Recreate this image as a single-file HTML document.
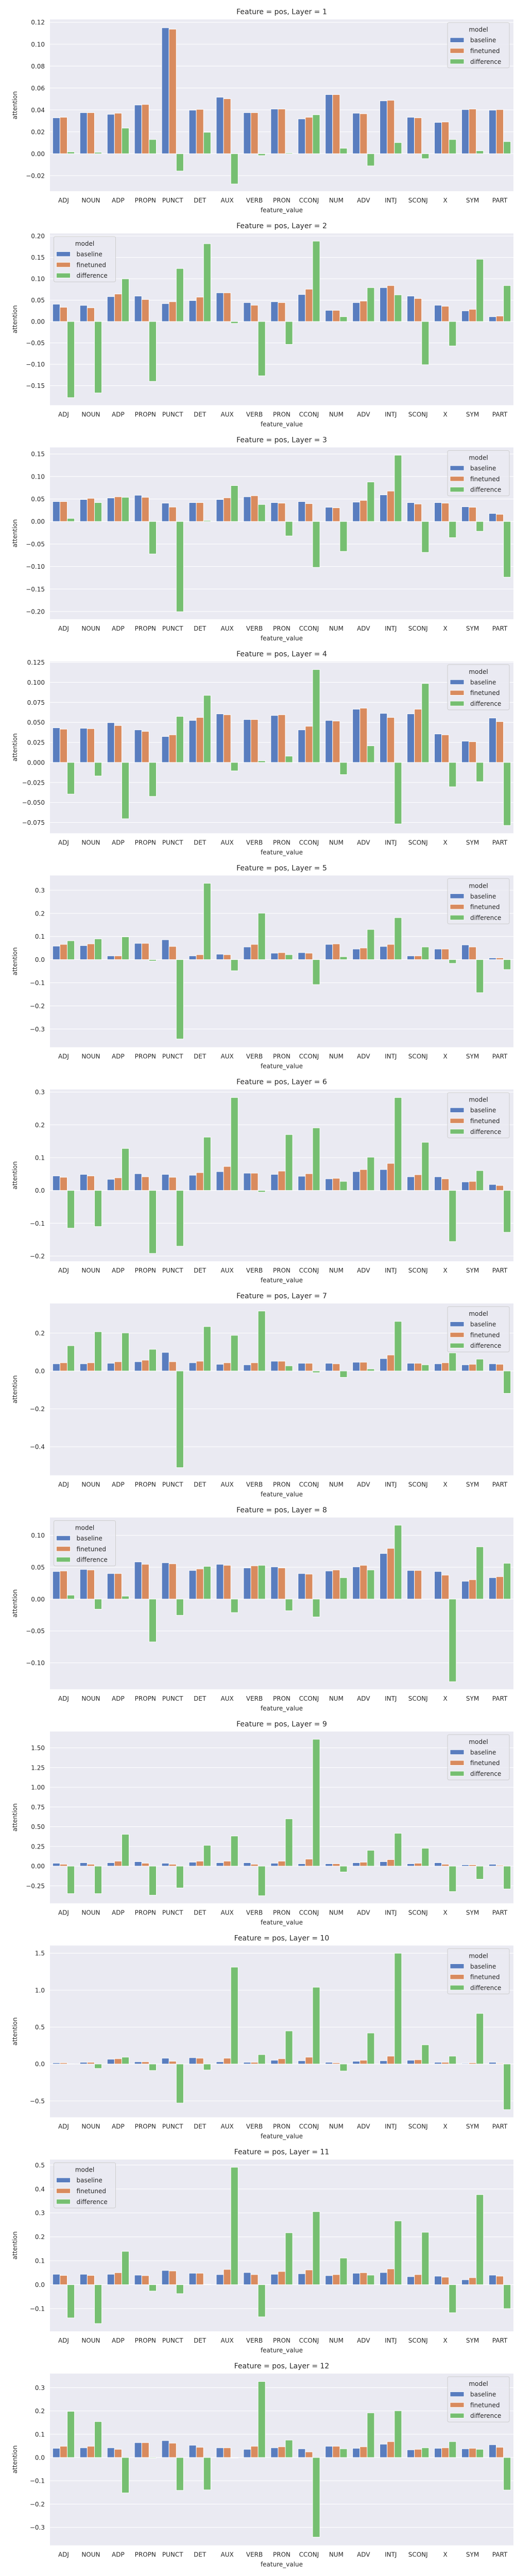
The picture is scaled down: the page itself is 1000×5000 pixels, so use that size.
<!DOCTYPE html>
<html><head><meta charset="utf-8"><title>Attention by POS per layer</title>
<style>
html,body{margin:0;padding:0;background:#fff;}
svg{display:block;font-family:"DejaVu Sans","Liberation Sans",sans-serif;}
</style></head>
<body>
<svg id="fig" width="1000" height="5000" viewBox="0 0 1000 5000" xmlns="http://www.w3.org/2000/svg"></svg>
<script>
const categories = ["ADJ","NOUN","ADP","PROPN","PUNCT","DET","AUX","VERB","PRON","CCONJ","NUM","ADV","INTJ","SCONJ","X","SYM","PART"];
const seriesNames = ["baseline","finetuned","difference"];

const baselineL1   = [0.0328,0.0375,0.036,0.0445,0.115,0.0398,0.0516,0.0375,0.0408,0.0318,0.054,0.037,0.0483,0.0333,0.0286,0.0403,0.0398];
const finetunedL1  = [0.0333,0.0375,0.037,0.045,0.1137,0.0405,0.0502,0.0375,0.0408,0.0333,0.054,0.0365,0.0488,0.0328,0.029,0.0408,0.0403];
const differenceL1 = [0.0017,0.0013,0.0234,0.013,-0.0158,0.0196,-0.0276,-0.0017,0.0008,0.0356,0.005,-0.0111,0.0102,-0.0045,0.013,0.0027,0.0111];

const baselineL2   = [0.0406,0.0378,0.0583,0.0596,0.0419,0.0491,0.0672,0.0443,0.0463,0.0632,0.0262,0.0443,0.0793,0.0596,0.0382,0.025,0.0113];
const finetunedL2  = [0.0334,0.0322,0.0644,0.0515,0.0463,0.0571,0.0672,0.0382,0.0443,0.0757,0.0262,0.0479,0.0841,0.0539,0.0358,0.0286,0.0129];
const differenceL2 = [-0.178,-0.167,0.0998,-0.140,0.124,0.182,-0.0044,-0.127,-0.0535,0.188,0.0113,0.0793,0.0624,-0.101,-0.0571,0.1457,0.0841];

const baselineL3   = [0.0443,0.0489,0.0523,0.0584,0.0408,0.042,0.0489,0.055,0.042,0.0443,0.0317,0.0431,0.0592,0.042,0.042,0.0328,0.0179];
const finetunedL3  = [0.0443,0.0515,0.055,0.0538,0.0321,0.042,0.0527,0.0573,0.0408,0.0397,0.0305,0.0469,0.0676,0.0389,0.0408,0.0317,0.016];
const differenceL3 = [0.0069,0.042,0.0538,-0.0721,-0.2004,0.0023,0.0798,0.0378,-0.0321,-0.1019,-0.0664,0.0878,0.1473,-0.0687,-0.0359,-0.0218,-0.1237];

const baselineL4   = [0.0433,0.0427,0.0497,0.0407,0.0324,0.0525,0.0607,0.0536,0.0587,0.0407,0.0525,0.0665,0.0613,0.0607,0.0356,0.0266,0.0555];
const finetunedL4  = [0.0416,0.0422,0.0461,0.0388,0.0345,0.0562,0.0596,0.0536,0.0596,0.0452,0.0517,0.0678,0.0562,0.0665,0.0345,0.0259,0.051];
const differenceL4 = [-0.0395,-0.0169,-0.0703,-0.0424,0.0575,0.0838,-0.0105,0.0021,0.0079,0.116,-0.0152,0.0208,-0.0768,0.0986,-0.0304,-0.024,-0.0787];

const baselineL5   = [0.0585,0.0607,0.0163,0.0704,0.0859,0.0163,0.0237,0.0548,0.0281,0.0304,0.0659,0.0459,0.057,0.0163,0.0459,0.0637,0.0074];
const finetunedL5  = [0.0659,0.0681,0.0163,0.0704,0.057,0.0215,0.0215,0.0659,0.0304,0.0281,0.0681,0.0504,0.0659,0.0163,0.0459,0.0548,0.0074];
const differenceL5 = [0.0815,0.0896,0.0985,-0.0059,-0.343,0.330,-0.0481,0.2007,0.0215,-0.108,0.0126,0.1304,0.1815,0.0548,-0.0163,-0.143,-0.043];

const baselineL6   = [0.0444,0.0491,0.034,0.0512,0.0491,0.0465,0.0575,0.0528,0.0491,0.0434,0.0355,0.0575,0.0638,0.0418,0.0418,0.0261,0.0183];
const finetunedL6  = [0.0403,0.0444,0.0387,0.0418,0.0403,0.0544,0.0732,0.0528,0.0591,0.0512,0.0371,0.0638,0.0826,0.0481,0.0355,0.0277,0.0152];
const differenceL6 = [-0.115,-0.110,0.128,-0.192,-0.170,0.1626,0.2833,-0.0052,0.1704,0.1908,0.0277,0.1014,0.2833,0.1469,-0.1558,0.0606,-0.1276];

const baselineL7   = [0.0382,0.0382,0.0409,0.0491,0.0982,0.0436,0.0355,0.0327,0.0518,0.0409,0.0409,0.0464,0.0655,0.0409,0.0382,0.0327,0.0382];
const finetunedL7  = [0.0436,0.0436,0.0491,0.0573,0.0491,0.0518,0.0436,0.0436,0.0518,0.0409,0.0382,0.0464,0.0845,0.0409,0.0436,0.0355,0.0355];
const differenceL7 = [0.1336,0.2073,0.2009,0.1145,-0.51,0.2345,0.1882,0.3164,0.0273,-0.0091,-0.0336,0.0109,0.2618,0.0327,0.0955,0.0627,-0.1182];

const baselineL8   = [0.0433,0.0465,0.0401,0.0583,0.057,0.0449,0.0546,0.0489,0.0505,0.0401,0.0441,0.0505,0.0715,0.0449,0.0433,0.028,0.0336];
const finetunedL8  = [0.0441,0.0457,0.0401,0.0546,0.0554,0.0473,0.053,0.0522,0.0489,0.0392,0.0457,0.053,0.0796,0.0449,0.0376,0.0304,0.0352];
const differenceL8 = [0.0062,-0.0159,0.0046,-0.0672,-0.0255,0.0513,-0.0212,0.053,-0.0183,-0.028,0.0336,0.0457,0.1159,0.0,-0.1296,0.082,0.0562];

const baselineL9   = [0.037,0.0437,0.0437,0.0568,0.037,0.050,0.0437,0.0437,0.037,0.0306,0.0306,0.0437,0.0568,0.0306,0.0437,0.0175,0.024];
const finetunedL9  = [0.024,0.024,0.0633,0.037,0.024,0.0633,0.0633,0.024,0.0633,0.0895,0.0306,0.050,0.083,0.037,0.024,0.0175,0.011];
const differenceL9 = [-0.349,-0.349,0.404,-0.369,-0.277,0.264,0.382,-0.376,0.600,1.609,-0.0742,0.201,0.417,0.227,-0.323,-0.166,-0.29];

const baselineL10   = [0.0163,0.0232,0.065,0.0302,0.079,0.0859,0.0302,0.0232,0.0511,0.0441,0.0232,0.0372,0.0441,0.0511,0.0232,0.0093,0.0232];
const finetunedL10  = [0.0163,0.0232,0.072,0.0302,0.0372,0.079,0.079,0.0232,0.072,0.0929,0.0163,0.0511,0.1068,0.058,0.0232,0.0163,0.0093];
const differenceL10 = [0.002,-0.0604,0.0929,-0.0882,-0.529,-0.0813,1.312,0.1277,0.448,1.040,-0.0952,0.420,1.500,0.260,0.1068,0.685,-0.618];

const baselineL11   = [0.0438,0.0438,0.0438,0.0402,0.0596,0.0481,0.0424,0.051,0.0438,0.046,0.0381,0.0481,0.051,0.0338,0.0359,0.0208,0.0402];
const finetunedL11  = [0.0388,0.0388,0.0503,0.0381,0.0575,0.0481,0.0639,0.0424,0.0553,0.0618,0.0424,0.0503,0.0661,0.0424,0.0316,0.0295,0.0359];
const differenceL11 = [-0.1387,-0.1624,0.1394,-0.0266,-0.0374,0.0014,0.4907,-0.1343,0.217,0.3053,0.1114,0.0402,0.2665,0.2191,-0.1171,0.3764,-0.0999];

const baselineL12   = [0.0397,0.0419,0.0419,0.064,0.0728,0.0529,0.0419,0.0353,0.0419,0.0375,0.0485,0.0397,0.0574,0.0331,0.0397,0.0375,0.0551];
const finetunedL12  = [0.0485,0.0485,0.0353,0.064,0.0618,0.0441,0.0419,0.0485,0.0463,0.0243,0.0485,0.0463,0.0684,0.0353,0.0419,0.0397,0.0441];
const differenceL12 = [0.1985,0.1544,-0.152,-0.0029,-0.1412,-0.139,-0.002,0.3265,0.075,-0.342,0.0375,0.1919,0.2007,0.0419,0.0684,0.0353,-0.1397];

const layerBaseline   = [baselineL1,baselineL2,baselineL3,baselineL4,baselineL5,baselineL6,baselineL7,baselineL8,baselineL9,baselineL10,baselineL11,baselineL12];
const layerFinetuned  = [finetunedL1,finetunedL2,finetunedL3,finetunedL4,finetunedL5,finetunedL6,finetunedL7,finetunedL8,finetunedL9,finetunedL10,finetunedL11,finetunedL12];
const layerDifference = [differenceL1,differenceL2,differenceL3,differenceL4,differenceL5,differenceL6,differenceL7,differenceL8,differenceL9,differenceL10,differenceL11,differenceL12];

const yMin = [-0.0342,-0.1957,-0.2171,-0.0884,-0.3787,-0.2159,-0.5504,-0.1415,-0.4716,-0.722,-0.1948,-0.3772];
const yMax = [0.1226,0.206,0.1645,0.1261,0.3636,0.3078,0.3561,0.1279,1.707,1.604,0.5228,0.3605];
const tickStart = [-0.02,-0.15,-0.20,-0.075,-0.3,-0.2,-0.4,-0.10,-0.25,-0.5,-0.1,-0.3];
const tickStep = [0.02,0.05,0.05,0.025,0.1,0.1,0.2,0.05,0.25,0.5,0.1,0.1];
const tickDecimals = [2,2,2,3,1,1,1,2,2,1,1,1];
const legendLeft = [false,true,false,false,false,false,false,true,false,false,true,false];

const COLORS = ["#597dbf","#d98b5e","#76bf71"];
const NS = "http://www.w3.org/2000/svg";
const svg = document.getElementById("fig");
const PLOT_L = 97, PLOT_R = 997, PLOT_H = 333.4, PITCH = 415.4, TOP0 = 37.7;

function mk(tag, attrs, parent){
  const e = document.createElementNS(NS, tag);
  for (const k in attrs) e.setAttribute(k, attrs[k]);
  (parent||svg).appendChild(e);
  return e;
}
function fmt(v, d){
  const s = Math.abs(v).toFixed(d);
  return (v < -1e-9 ? "\u2212" : "") + s;
}

for (let p = 0; p < 12; p++){
  const top = TOP0 + PITCH * p, bot = top + PLOT_H;
  const ymin = yMin[p], ymax = yMax[p];
  const yScale = v => bot - (v - ymin) / (ymax - ymin) * PLOT_H;
  const catW = (PLOT_R - PLOT_L) / categories.length;
  const xBand = i => PLOT_L + i * catW;

  const g = mk("g", {});
  
  

  const bg = mk("rect", {x:PLOT_L, y:top, width:PLOT_R-PLOT_L, height:PLOT_H, fill:"#eaeaf2"}, g);
  
  

  const title = mk("text", {x:547, y:top-10, "text-anchor":"middle", "font-size":"14", fill:"#262626"}, g);
  title.textContent = "Feature = pos, Layer = " + (p+1);
  
  

  for (let t = tickStart[p]; t <= ymax + 1e-9; t += tickStep[p]){
    const tv = Math.round(t / tickStep[p]) * tickStep[p];
    const y = yScale(tv);
    const gl = mk("line", {x1:PLOT_L, x2:PLOT_R, y1:y, y2:y, stroke:"#ffffff", "stroke-width":"1.1"}, g);
    
    
    const tl = mk("text", {x:PLOT_L-10, y:y+4.5, "text-anchor":"end", "font-size":"12", fill:"#262626"}, g);
    tl.textContent = fmt(tv, tickDecimals[p]);
    
    
  }

  const series = [layerBaseline[p], layerFinetuned[p], layerDifference[p]];
  const barW = catW * 0.8 / 3;
  const y0 = yScale(0);
  for (let s = 0; s < 3; s++){
    for (let i = 0; i < categories.length; i++){
      const v = series[s][i];
      const yv = yScale(v);
      const r = mk("rect", {x:xBand(i) + catW*0.1 + s*barW, y:Math.min(yv,y0), width:barW, height:Math.max(Math.abs(yv-y0),0.3), fill:COLORS[s], stroke:"#ffffff", "stroke-width":"1"}, g);
      
      
    }
  }

  for (let i = 0; i < categories.length; i++){
    const xl = mk("text", {x:xBand(i)+catW/2, y:bot+22, "text-anchor":"middle", "font-size":"12", fill:"#262626"}, g);
    xl.textContent = categories[i];
    
    
  }
  const xt = mk("text", {x:547, y:bot+41, "text-anchor":"middle", "font-size":"12", fill:"#262626"}, g);
  xt.textContent = "feature_value";
  
  
  const cy = top + PLOT_H/2;
  const yt = mk("text", {x:0, y:0, "text-anchor":"middle", "font-size":"12", fill:"#262626", transform:"translate(33,"+cy+") rotate(-90)"}, g);
  yt.textContent = "attention";
  
  

  const lx = legendLeft[p] ? 104.5 : 869;
  const ly = top + 6;
  const lg = mk("g", {}, g);
  
  
  mk("rect", {x:lx, y:ly, width:120, height:88, rx:3, fill:"#eaeaf2", "fill-opacity":"0.85", stroke:"#cccccc", "stroke-width":"1"}, lg);
  const lt = mk("text", {x:lx+60, y:ly+18, "text-anchor":"middle", "font-size":"12", fill:"#262626"}, lg);
  lt.textContent = "model";
  
  
  for (let s = 0; s < 3; s++){
    const ey = ly + 34 + s*20.8;
    const sw = mk("rect", {x:lx+5, y:ey-4.6, width:27, height:9.3, fill:COLORS[s], stroke:"#ffffff", "stroke-width":"0.8"}, lg);
    
    
    const et = mk("text", {x:lx+44, y:ey+4.5, "font-size":"12", fill:"#262626"}, lg);
    et.textContent = seriesNames[s];
    
    
  }
}
</script>
</body></html>
